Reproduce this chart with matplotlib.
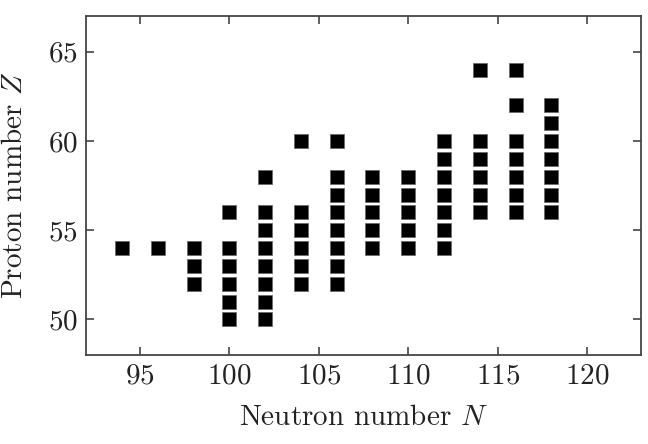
import numpy as np
import matplotlib.pyplot as plt

plt.rcParams['font.family'] = 'cmr10'
plt.rcParams['mathtext.fontset'] = 'cm'
plt.rcParams['axes.formatter.use_mathtext'] = True

# neutron number -> list of proton numbers
N_vals = [94, 96, 98, 100, 102, 104, 106, 108, 110, 112, 114, 116, 118]
Z_lists = [
    [54],
    [54],
    [52, 53, 54],
    [50, 51, 52, 53, 54, 56],
    [50, 51, 52, 53, 54, 55, 56, 58],
    [52, 53, 54, 55, 56, 60],
    [52, 53, 54, 55, 56, 57, 58, 60],
    [54, 55, 56, 57, 58],
    [54, 55, 56, 57, 58],
    [54, 55, 56, 57, 58, 59, 60],
    [56, 57, 58, 59, 60, 64],
    [56, 57, 58, 59, 60, 62, 64],
    [56, 57, 58, 59, 60, 61, 62],
]

N = []
Z = []
for n, zs in zip(N_vals, Z_lists):
    for z in zs:
        N.append(n)
        Z.append(z)

fig = plt.figure(figsize=(6.48, 4.44), dpi=100)
ax = fig.add_axes([0.133, 0.2, 0.856, 0.764])
ax.scatter(N, Z, marker='s', s=106, c='black', edgecolors='#666666', linewidths=0.5)

ax.set_xlim(92, 123)
ax.set_ylim(48, 67)
ax.set_xticks([95, 100, 105, 110, 115, 120])
ax.set_yticks([50, 55, 60, 65])
ax.tick_params(direction='in', top=True, right=True, length=6, width=1.2,
               labelsize=21, color='#444444', pad=6, labelcolor='#222222')
for sp in ax.spines.values():
    sp.set_linewidth(1.3)
    sp.set_color('#444444')

ax.set_xlabel(r'Neutron number $N$', fontsize=21, color='#222222', labelpad=11)
ax.set_ylabel(r'Proton number $Z$', fontsize=21, color='#222222', labelpad=14)

fig.savefig('out.png', dpi=100)
